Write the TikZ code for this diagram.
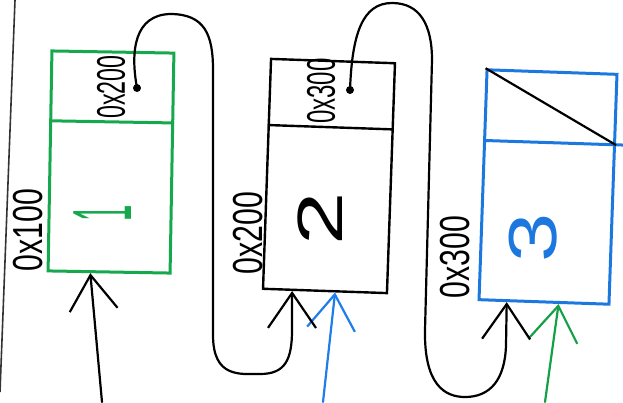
\documentclass[tikz,border=0pt]{standalone}
\usepackage{graphicx}
\usepackage{fontspec}
\setsansfont{Liberation Sans}
\usetikzlibrary{arrows.meta,calc}
\definecolor{nodegreen}{RGB}{22,168,76}
\definecolor{nodeblue}{RGB}{28,120,222}
\definecolor{ptrblue}{RGB}{30,125,235}
\definecolor{ptrgreen}{RGB}{20,160,70}
\tikzset{
  cell/.style={draw, rectangle, inner sep=0pt, line width=3pt},
  link/.style={line width=2.2pt, line cap=round, -{Straight Barb[length=35pt,width=48pt]}},
  addr/.style={rotate=90, inner sep=0pt, font=\sffamily\fontsize{42}{42}\selectfont},
  addrin/.style={rotate=90, inner sep=0pt, font=\sffamily\fontsize{40}{40}\selectfont},
  val/.style={rotate=90, inner sep=0pt},
  dot/.style={circle, fill, inner sep=0pt, minimum size=8pt}
}
\begin{document}
\begin{tikzpicture}[x=1pt, y=-1pt]
\useasboundingbox (0,0) rectangle (623,402);

% margin line of the sheet
\draw[line width=1.6pt, black!80] (15,0) -- (0,392);

% the three list cells
\node[cell, draw=nodegreen, minimum width=122pt, minimum height=220pt, rotate=-1] (n1) at (111,162) {};
\node[cell, draw=black, line width=2.4pt, minimum width=124pt, minimum height=230pt, rotate=-2] (n2) at (329,176) {};
\node[cell, draw=nodeblue, minimum width=130pt, minimum height=230pt, rotate=-2] (n3) at (548,187) {};

% separators between the next pointer and the data
\draw[nodegreen, line width=3pt] ($(n1.north west)!0.32!(n1.south west)$) -- ($(n1.north east)!0.32!(n1.south east)$);
\draw[black, line width=2.4pt] ($(n2.north west)!0.29!(n2.south west)$) -- ($(n2.north east)!0.29!(n2.south east)$);
\draw[nodeblue, line width=3pt] ($(n3.north west)!0.31!(n3.south west)$) -- ($(n3.north east)!0.31!(n3.south east)+(8,0)$);
\draw[black, line width=2.2pt] (n3.north west) -- ($(n3.north east)!0.31!(n3.south east)$);

% stored next addresses
\node[addrin] (p1) at (111,87) {\scalebox{0.58}[1]{0x200}};
\node[addrin] (p2) at (321,91) {\scalebox{0.6}[1]{0x300}};
\node[dot] (d1) at (137,88) {};
\node[dot] (d2) at (350,90) {};

% cell addresses
\node[addr] (a1) at (28,230) {\scalebox{0.72}[1]{0x100}};
\node[addr] (a2) at (248,233) {\scalebox{0.72}[1]{0x200}};
\node[addr] (a3) at (455,257) {\scalebox{0.72}[1]{0x300}};

% stored values
\node[val, text=nodegreen, font=\sffamily\fontsize{84}{84}\selectfont] (v1) at (103,213) {\scalebox{0.35}[1]{1}};
\node[val, font=\sffamily\fontsize{64}{64}\selectfont] (v2) at (320,219) {\scalebox{1.5}[1]{2}};
\node[val, text=nodeblue, font=\sffamily\fontsize{68}{68}\selectfont] (v3) at (533,238) {\scalebox{1.3}[1]{3}};

% where the pointers land
\coordinate (t1) at ($(n1.south west)!0.35!(n1.south east)$);
\coordinate (t2) at ($(n2.south west)!0.24!(n2.south east)$);
\coordinate (b2) at ($(n2.south west)!0.58!(n2.south east)$);
\coordinate (t3) at ($(n3.south west)!0.22!(n3.south east)$);
\coordinate (g3) at ($(n3.south west)!0.61!(n3.south east)$);
\coordinate (s1) at (102,402);
\coordinate (s2) at (323,402);
\coordinate (s3) at (545,402);

% head and extra pointers
\draw[link] (s1) -- (t1);
\draw[link, ptrblue] (s2) -- (b2);
\draw[link, ptrgreen] (s3) -- (g3);

% next links
\draw[link] (d1.center) .. controls (130,50) and (135,15) .. (170,14)
  .. controls (205,14) and (213,35) .. (213,70) -- (213,335)
  .. controls (213,378) and (240,374) .. (260,374)
  .. controls (285,374) and (292,360) .. (292,330) -- (t2);
\draw[link] (d2.center) .. controls (352,35) and (362,3) .. (392,3)
  .. controls (420,3) and (432,25) .. (432,60) -- (425,330)
  .. controls (424,385) and (445,397) .. (465,397)
  .. controls (490,397) and (505,380) .. (506,345) -- (t3);
\end{tikzpicture}
\end{document}
